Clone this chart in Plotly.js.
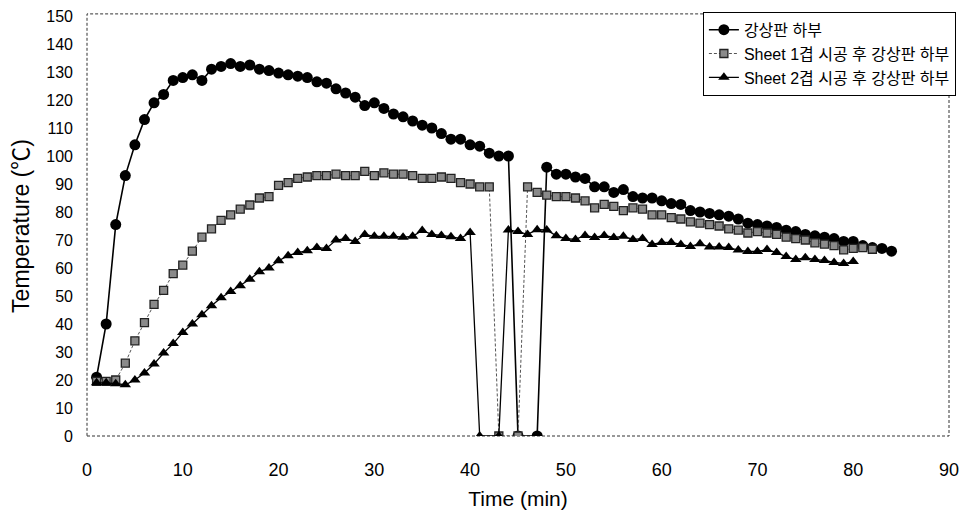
<!DOCTYPE html>
<html>
<head>
<meta charset="utf-8">
<script src="https://cdn.plot.ly/plotly-3.0.1.min.js"></script>
<style>html,body{margin:0;padding:0;background:#fff;}#chart{width:968px;height:522px;}</style>
</head>
<body>
<div id="chart"></div>
<script>
const seriesNames = ["강상판 하부", "Sheet 1겹 시공 후 강상판 하부", "Sheet 2겹 시공 후 강상판 하부"];

const time1 = [1,2,3,4,5,6,7,8,9,10,11,12,13,14,15,16,17,18,19,20,21,22,23,24,25,26,27,28,29,30,31,32,33,34,35,36,37,38,39,40,41,42,43,44,45,47,48,49,50,51,52,53,54,55,56,57,58,59,60,61,62,63,64,65,66,67,68,69,70,71,72,73,74,75,76,77,78,79,80,81,82,83,84];
const temp1 = [21,40,75.5,93,104,113,119,122,127,128,129,127,131,132,133,132,132.5,131,130.5,129.6,129,128.5,128,126.5,126,124,122.5,121,118,119,117,115,114,112.5,111,110,108,106,106,104,103.5,101,100,100,0,0,96,93.5,93.5,92.5,92,89,89,87,88,85.5,85,85,84,83,82.7,80.5,80,79.5,79,78.5,77.5,76,75.5,75,74.5,73.5,73,72,71.5,71,70.5,69.5,69.5,68,67.3,67,66];

const time2 = [1,2,3,4,5,6,7,8,9,10,11,12,13,14,15,16,17,18,19,20,21,22,23,24,25,26,27,28,29,30,31,32,33,34,35,36,37,38,39,40,41,42,43,45,46,47,48,49,50,51,52,53,54,55,56,57,58,59,60,61,62,63,64,65,66,67,68,69,70,71,72,73,74,75,76,77,78,79,80,81,82];
const temp2 = [19.5,19.5,20,26,34,40.5,47,52,58,61,66,71,74,77,79,81,82.5,85,85.5,89.5,90.5,92,92.5,93,93,93.5,93,93,94.5,93,94,93.5,93.5,93,92,92,92.5,92,90.5,90,89,89,0,0,89,87,86,85.5,85.5,85,84,81.5,82.7,82,80.5,81.5,81,79,79,78,77.5,76.5,76,75.5,75,74,73.5,72.5,73,72.5,72,71,70.5,70,69,68.5,68,66.5,67,67.3,66.7];

const time3 = [1,2,3,4,5,6,7,8,9,10,11,12,13,14,15,16,17,18,19,20,21,22,23,24,25,26,27,28,29,30,31,32,33,34,35,36,37,38,39,40,41,43,44,45,46,47,48,49,50,51,52,53,54,55,56,57,58,59,60,61,62,63,64,65,66,67,68,69,70,71,72,73,74,75,76,77,78,79,80];
const temp3 = [19,19,18.7,18.3,20,22.5,25.7,29.6,33,37,40,43.3,46.5,49.4,51.6,53.7,56,58.7,60,62.6,64.4,65.5,66.2,67.3,67,70,70.5,69.5,72,71.3,71.3,71.3,71,71.3,73.4,72,71.6,71.2,70.5,72.7,0,0,73.6,73,72,73.7,73.6,71.5,70.5,70.2,71.6,70.9,71.6,70.9,71.3,70.2,70.5,68.4,69.1,69.1,68.4,67.7,68.7,67.5,67.5,67.3,66.4,65.9,65.9,66.6,65.5,64.1,63,63.7,63,62.7,62,61.6,62.3];

const xTicks = [0,10,20,30,40,50,60,70,80,90];
const yTicks = [0,10,20,30,40,50,60,70,80,90,100,110,120,130,140,150];

const FONT = "Liberation Sans, Arial, Noto Sans CJK KR, sans-serif";

const traces = [
  {x: time1, y: temp1, name: seriesNames[0], type: "scatter", mode: "lines+markers",
   line: {color: "#000", width: 1.6},
   marker: {symbol: "circle", size: 11, color: "#000"}},
  {x: time2, y: temp2, name: seriesNames[1], type: "scatter", mode: "lines+markers",
   line: {color: "#555", width: 1, dash: "3px,2px"},
   marker: {symbol: "square", size: 8, color: "#8a8a8a", line: {color: "#222", width: 1.3}}},
  {x: time3, y: temp3, name: seriesNames[2], type: "scatter", mode: "lines+markers",
   line: {color: "#000", width: 1.3},
   marker: {symbol: "triangle-up", size: 10, color: "#000"}}
];

const layout = {
  width: 968, height: 522,
  margin: {l: 87, r: 17, t: 16, b: 86},
  paper_bgcolor: "#fff", plot_bgcolor: "#fff",
  font: {family: FONT, color: "#000", size: 16},
  showlegend: true,
  legend: {x: 1.008, xanchor: "right", y: 1.01, yanchor: "top",
           bgcolor: "#fff", bordercolor: "#000", borderwidth: 1,
           font: {family: FONT, size: 16, color: "#000"},
           tracegroupgap: 0, itemwidth: 30},
  xaxis: {range: [0, 90], tickmode: "array", tickvals: xTicks, ticktext: xTicks.map(String),
          showgrid: false, zeroline: false, showline: false, ticks: "",
          tickfont: {family: FONT, size: 18}, ticklabelstandoff: 21,
          title: {text: "Time (min)", font: {family: FONT, size: 21}, standoff: 12}},
  yaxis: {range: [0, 150], tickmode: "array", tickvals: yTicks, ticktext: yTicks.map(String),
          showgrid: false, zeroline: false, showline: false, ticks: "",
          tickfont: {family: FONT, size: 16}, ticklabelstandoff: 13,
          title: {text: "Temperature (℃)", font: {family: FONT, size: 23}, standoff: 10}},
  shapes: [{type: "rect", xref: "paper", yref: "paper", x0: 0, x1: 1, y0: 0, y1: 1.005,
            line: {color: "#333", width: 1, dash: "3px,2px"}, layer: "below"}]
};

Plotly.newPlot("chart", traces, layout, {displayModeBar: false, staticPlot: true});
</script>
</body>
</html>
